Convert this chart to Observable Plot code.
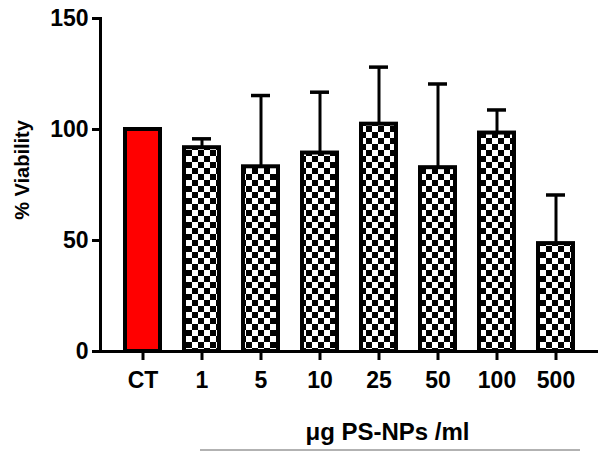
<!DOCTYPE html>
<html><head><meta charset="utf-8">
<script src="https://cdn.jsdelivr.net/npm/d3@7"></script>
<script src="https://cdn.jsdelivr.net/npm/@observablehq/plot@0.6"></script>
<style>body{margin:0;background:#fff} svg{display:block}</style>
</head><body><div id="chart"></div>
<script>
const categories = ["CT", "1", "5", "10", "25", "50", "100", "500"];
const viability = [100, 91.8, 83.2, 89.4, 102.4, 82.8, 98.4, 48.6];
const errorTop = [100, 95.8, 115.3, 116.8, 128.1, 120.5, 108.8, 70.5];
const yTicks = [0, 50, 100, 150];
const yLabel = "% Viability";
const xTitle = "μg PS-NPs /ml";

const data = categories.map((c, i) => ({cat: c, v: viability[i], hi: errorTop[i]}));
const control = data.slice(0, 1);
const treated = data.slice(1);
const errData = data.filter(d => d.hi > d.v);

const plot = Plot.plot({
  width: 599, height: 451,
  marginLeft: 100, marginRight: 1, marginTop: 18, marginBottom: 100,
  style: {fontFamily: "'Liberation Sans', Arial, sans-serif", fontWeight: "bold", background: "white", color: "black", overflow: "visible"},
  x: {domain: categories, paddingInner: 0.333, paddingOuter: 0.335, label: null},
  y: {domain: [0, 150], label: null},
  marks: [
    Plot.ruleX(errData, {x: "cat", y1: "v", y2: "hi", strokeWidth: 3}),
    Plot.tickY(errData, {x: "cat", y: "hi", strokeWidth: 3.5, insetLeft: 10, insetRight: 10}),
    Plot.barY(control, {x: "cat", y: "v", fill: "#ff0000", stroke: "black", strokeWidth: 4, insetLeft: 2, insetRight: 2}),
    Plot.barY(treated, {x: "cat", y: "v", fill: "url(#checker)", stroke: "black", strokeWidth: 4, insetLeft: 2, insetRight: 2}),
    Plot.ruleY([0], {strokeWidth: 3}),
    Plot.frame({anchor: "left", strokeWidth: 3}),
    Plot.axisY(yTicks, {tickSize: 8, tickPadding: 4, strokeWidth: 3, fontSize: 23, label: null}),
    Plot.axisX({tickSize: 9, tickPadding: 11, strokeWidth: 3, fontSize: 23, label: null}),
    Plot.text([yLabel], {frameAnchor: "left", textAnchor: "middle", rotate: -90, dx: -78, dy: -15, fontSize: 20}),
    Plot.text([xTitle], {frameAnchor: "bottom", textAnchor: "middle", lineAnchor: "middle", dx: 38, dy: 81, fontSize: 24})
  ]
});

const svg = d3.select(plot);
const defs = svg.insert("defs", ":first-child");
const pat = defs.append("pattern").attr("id", "checker").attr("patternUnits", "userSpaceOnUse")
  .attr("width", 12).attr("height", 12);
pat.append("rect").attr("width", 12).attr("height", 12).attr("fill", "white");
pat.append("rect").attr("width", 6).attr("height", 6).attr("fill", "black");
pat.append("rect").attr("x", 6).attr("y", 6).attr("width", 6).attr("height", 6).attr("fill", "black");
svg.append("line").attr("x1", 200).attr("x2", 580).attr("y1", 450).attr("y2", 450)
  .attr("stroke", "#999").attr("stroke-width", 1.5);

document.getElementById("chart").append(plot);
</script>
</body></html>
